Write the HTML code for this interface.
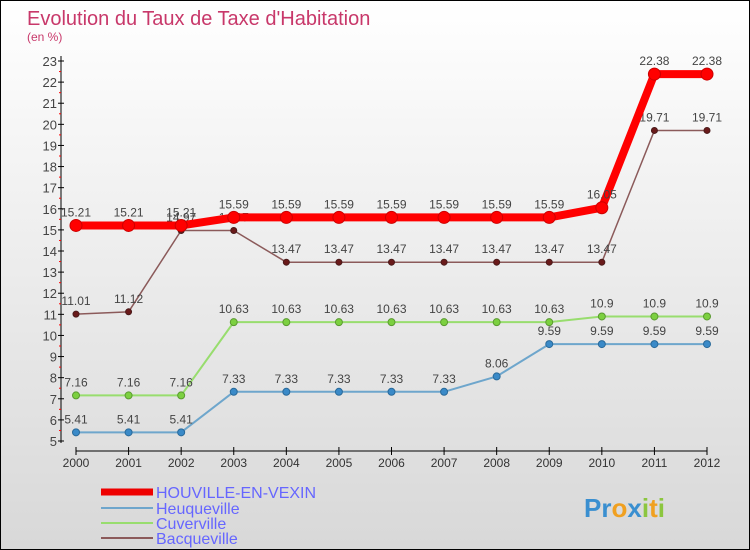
<!DOCTYPE html>
<html><head><meta charset="utf-8"><style>
body{margin:0}
#c{width:748px;height:548px;border:1px solid #000;background:linear-gradient(#fff,#d8d8d8);position:relative;font-family:"Liberation Sans",sans-serif;overflow:hidden}
</style></head><body>
<div id="c">
<svg width="748" height="548" id="s">
<text x="26" y="24" font-size="20" fill="#c8386a">Evolution du Taux de Taxe d'Habitation</text>
<text x="26" y="40" font-size="12" fill="#c8386a">(en %)</text>
<g id="ax"></g><g id="series"></g>
<g>
<line x1="100" y1="491" x2="152" y2="491" stroke="#e00" stroke-width="7"/>
<text x="155" y="497" font-size="16" fill="#66f">HOUVILLE-EN-VEXIN</text>
<line x1="100" y1="507" x2="152" y2="507" stroke="#6ea6cc" stroke-width="2"/>
<text x="155" y="513" font-size="16" fill="#66f">Heuqueville</text>
<line x1="100" y1="522" x2="152" y2="522" stroke="#98dd6e" stroke-width="2"/>
<text x="155" y="528" font-size="16" fill="#66f">Cuverville</text>
<line x1="100" y1="537" x2="152" y2="537" stroke="#8b5a5a" stroke-width="2"/>
<text x="155" y="543" font-size="16" fill="#66f">Bacqueville</text>
</g>
<text x="583" y="516" font-size="26" font-weight="bold" fill="#3a8fd0">Pr<tspan fill="#f0a020">o</tspan><tspan fill="#3a8fd0">x</tspan><tspan fill="#8cc63f">i</tspan><tspan fill="#f0a020">t</tspan><tspan fill="#8cc63f">i</tspan></text>
</svg></div>
<script>
const years=[2000,2001,2002,2003,2004,2005,2006,2007,2008,2009,2010,2011,2012];
const houville=[15.21,15.21,15.21,15.59,15.59,15.59,15.59,15.59,15.59,15.59,16.05,22.38,22.38];
const heuqueville=[5.41,5.41,5.41,7.33,7.33,7.33,7.33,7.33,8.06,9.59,9.59,9.59,9.59];
const cuverville=[7.16,7.16,7.16,10.63,10.63,10.63,10.63,10.63,10.63,10.63,10.9,10.9,10.9];
const bacqueville=[11.01,11.12,14.97,14.97,13.47,13.47,13.47,13.47,13.47,13.47,13.47,19.71,19.71];
const yTicks=[5,6,7,8,9,10,11,12,13,14,15,16,17,18,19,20,21,22,23];
const NS="http://www.w3.org/2000/svg";
const x=i=>75+i*(631/12);
const y=v=>440-(v-5)*(380/18);
function mk(t,a,p){const e=document.createElementNS(NS,t);for(const k in a)e.setAttribute(k,a[k]);p.appendChild(e);return e;}
const ax=document.getElementById('ax');
let l=mk('line',{x1:60,y1:55,x2:60,y2:442,stroke:'#000'},ax);


yTicks.forEach(v=>{
 mk('line',{x1:57,y1:y(v),x2:63,y2:y(v),stroke:'#000'},ax);
 if(v<23) mk('line',{x1:58,y1:y(v+0.5),x2:60,y2:y(v+0.5),stroke:'#f00'},ax);
 const t=mk('text',{x:56,y:y(v)+5,'font-size':13,fill:'#444','text-anchor':'end'},ax);t.textContent=v;
 
 
});
l=mk('line',{x1:75,y1:450,x2:706,y2:450,stroke:'#000'},ax);


years.forEach((yr,i)=>{
 mk('line',{x1:x(i),y1:446,x2:x(i),y2:454,stroke:'#000'},ax);
 const t=mk('text',{x:x(i),y:466,'font-size':12,fill:'#333','text-anchor':'middle'},ax);t.textContent=yr;
 
 
});
const sg=document.getElementById('series');
function series(name,d,color,w,dot,fill,r){
 const g=mk('g',{},sg);
 
 
 const p=mk('polyline',{points:d.map((v,i)=>x(i)+','+y(v)).join(' '),fill:'none',stroke:color,'stroke-width':w,'stroke-linejoin':'round'},g);
 
 
 d.forEach((v,i)=>{
  const c=mk('circle',{cx:x(i),cy:y(v),r:r,fill:fill,stroke:dot,'stroke-width':1},g);
  
  
  const t=mk('text',{x:x(i),y:y(v)-9,'font-size':12,fill:'#444','text-anchor':'middle'},g);t.textContent=v;
  
  
 });
}
series('heuqueville',heuqueville,'#6ea6cc',2,'#2a6a9a','#3a8ac8',3.5);
series('cuverville',cuverville,'#98dd6e',2,'#5a9a30','#7cd040',3.5);
series('bacqueville',bacqueville,'#8b5a5a',1.5,'#4a1a1a','#6a1a1a',3);
series('houville',houville,'#f00',8,'#c00','#f00',6);
</script>
</body></html>
